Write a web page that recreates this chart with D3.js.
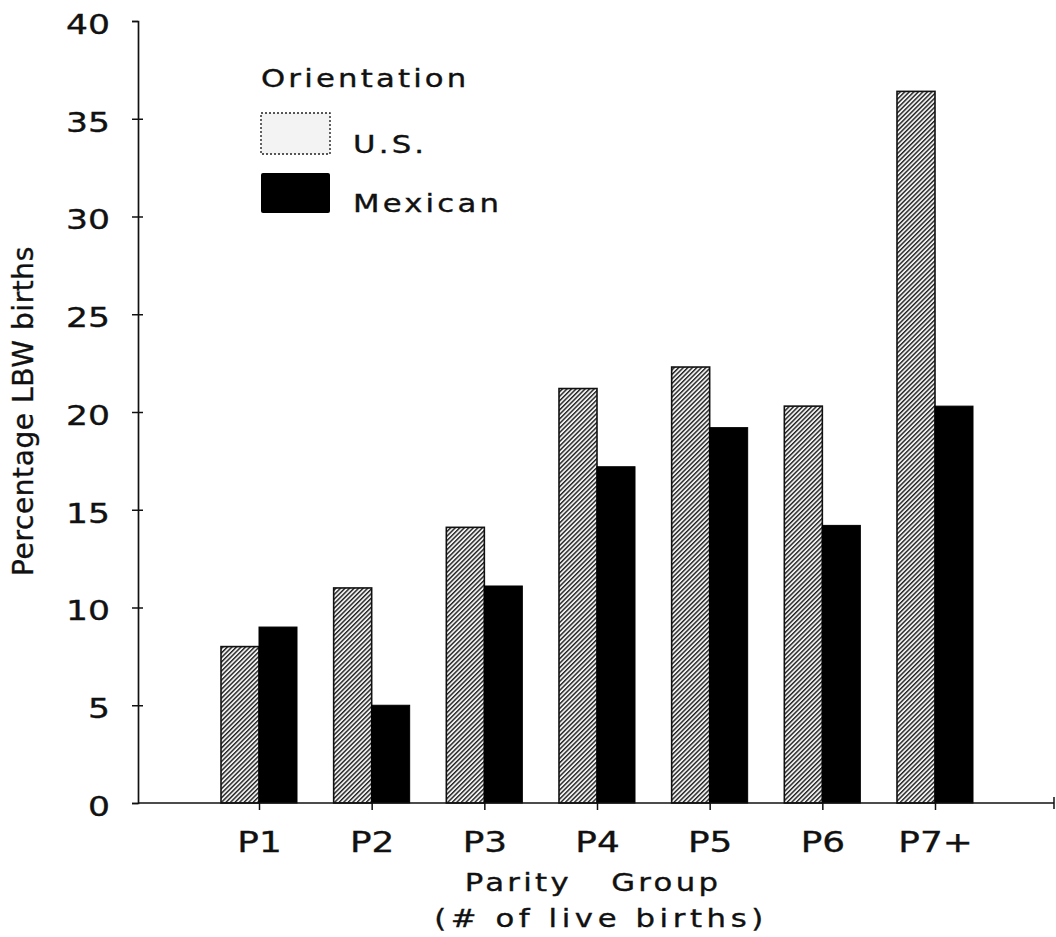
<!DOCTYPE html>
<html>
<head>
<meta charset="utf-8">
<script src="https://cdn.jsdelivr.net/npm/d3@7"></script>
<style>
  html, body { margin: 0; padding: 0; background: #fff; }
  svg { display: block; }
  text { font-family: "DejaVu Sans", sans-serif; fill: #111; stroke: #111; stroke-width: 0.35px; }
</style>
</head>
<body>
<svg id="chart" width="1056" height="937"></svg>
<script>
// ---- data ----
const categories = ["P1", "P2", "P3", "P4", "P5", "P6", "P7+"];
const usValues = [8.0, 11.0, 14.1, 21.2, 22.3, 20.3, 36.4];
const mexicanValues = [9.0, 5.0, 11.1, 17.2, 19.2, 14.2, 20.3];
const seriesNames = ["U.S.", "Mexican"];
const yTicks = [0, 5, 10, 15, 20, 25, 30, 35, 40];
const legendTitle = "Orientation";
const yTitle = "Percentage LBW births";
const xTitleLines = ["Parity   Group", "(# of live births)"];

// ---- setup ----
const svg = d3.select("#chart");
const axisLeftX = 138, axisRightX = 1054, baseY = 803, topY = 21;
const SX = 1.28; // horizontal stretch to mimic the wide geometric face

const y = d3.scaleLinear().domain([0, 40]).range([baseY, topY]);
const x = d3.scalePoint().domain(categories).range([259, 935]);
const barW = 38;

function wideText(parent, tx, ty, str, size, ls, anchor) {
  return parent.append("text")
    .attr("transform", `translate(${tx},${ty}) scale(${SX},1)`)
    .attr("text-anchor", anchor || "start")
    .style("font-size", size + "px")
    .style("letter-spacing", (ls || 0) + "px")
    .style("white-space", "pre")
    .text(str);
}

// hatch pattern
const defs = svg.append("defs");
const pat = defs.append("pattern")
  .attr("id", "hatch")
  .attr("patternUnits", "userSpaceOnUse")
  .attr("width", 3.2).attr("height", 3.2)
  .attr("patternTransform", "rotate(45)");
pat.append("rect").attr("width", 3.2).attr("height", 3.2).attr("fill", "#f0f0f0");
pat.append("rect").attr("x", 0).attr("y", 0).attr("width", 1.4).attr("height", 3.2).attr("fill", "#222");

// bars
const data = categories.map((c, i) => ({ c, us: usValues[i], mx: mexicanValues[i] }));
const g = svg.append("g");
g.selectAll("rect.us").data(data).join("rect")
  .attr("class", "us")
  .attr("x", d => x(d.c) - barW)
  .attr("y", d => y(d.us))
  .attr("width", barW)
  .attr("height", d => y(0) - y(d.us))
  .attr("fill", "url(#hatch)")
  .attr("stroke", "#111").attr("stroke-width", 1.6);
g.selectAll("rect.mx").data(data).join("rect")
  .attr("class", "mx")
  .attr("x", d => x(d.c))
  .attr("y", d => y(d.mx))
  .attr("width", barW)
  .attr("height", d => y(0) - y(d.mx))
  .attr("fill", "#000")
  .attr("stroke", "#000").attr("stroke-width", 1);

// y axis
const yAxis = svg.append("g").attr("transform", `translate(${axisLeftX},0)`)
  .call(d3.axisLeft(y).tickValues(yTicks).tickSize(6).tickPadding(22).tickFormat(d3.format("d")));
yAxis.select(".domain").attr("stroke", "#111").attr("stroke-width", 1.7);
yAxis.selectAll(".tick line").attr("stroke", "#111").attr("stroke-width", 1.5)
  .attr("x1", d => (d === 0 || d === 40) ? 0 : 5);
yAxis.selectAll(".tick text")
  .style("font-family", "'DejaVu Sans', sans-serif")
  .style("font-size", "27px")
  .attr("x", -28 / SX)
  .attr("transform", `scale(${SX},1)`)
  .attr("dy", "0.46em")
  .attr("fill", "#111");

// x axis
const xAxis = svg.append("g").attr("transform", `translate(0,${baseY})`)
  .call(d3.axisBottom(x).tickSize(7).tickSizeOuter(0).tickPadding(22));
xAxis.select(".domain").remove();
xAxis.selectAll(".tick line").attr("stroke", "#111").attr("stroke-width", 1.5);
xAxis.selectAll(".tick text")
  .style("font-family", "'DejaVu Sans', sans-serif")
  .style("font-size", "28px")
  .attr("transform", `scale(${SX},1)`)
  .attr("fill", "#111");
svg.append("line")
  .attr("x1", axisLeftX).attr("x2", axisRightX)
  .attr("y1", baseY).attr("y2", baseY)
  .attr("stroke", "#111").attr("stroke-width", 1.7);
svg.append("line")
  .attr("x1", axisRightX).attr("x2", axisRightX)
  .attr("y1", baseY - 6).attr("y2", baseY + 6)
  .attr("stroke", "#111").attr("stroke-width", 1.5);

// x title
wideText(svg, 593, 891, xTitleLines[0], 24, 2.6, "middle");
wideText(svg, 601, 927, xTitleLines[1], 24, 3.6, "middle");

// y title
svg.append("text")
  .attr("transform", "translate(33,411) rotate(-90)")
  .attr("text-anchor", "middle")
  .style("font-size", "28px").style("letter-spacing", "0.6px")
  .text(yTitle);

// legend
const leg = svg.append("g");
wideText(leg, 261, 87, legendTitle, 24, 2.5);
leg.append("rect").attr("x", 261).attr("y", 113).attr("width", 69).attr("height", 41)
  .attr("fill", "#f3f3f3").attr("stroke", "#222").attr("stroke-width", 1.4)
  .attr("stroke-dasharray", "2,2");
leg.append("rect").attr("x", 261).attr("y", 173).attr("width", 69).attr("height", 40)
  .attr("rx", 2).attr("fill", "#000");
wideText(leg, 353, 153, seriesNames[0], 24, 2.5);
wideText(leg, 353, 212, seriesNames[1], 24, 2.5);
</script>
</body>
</html>
